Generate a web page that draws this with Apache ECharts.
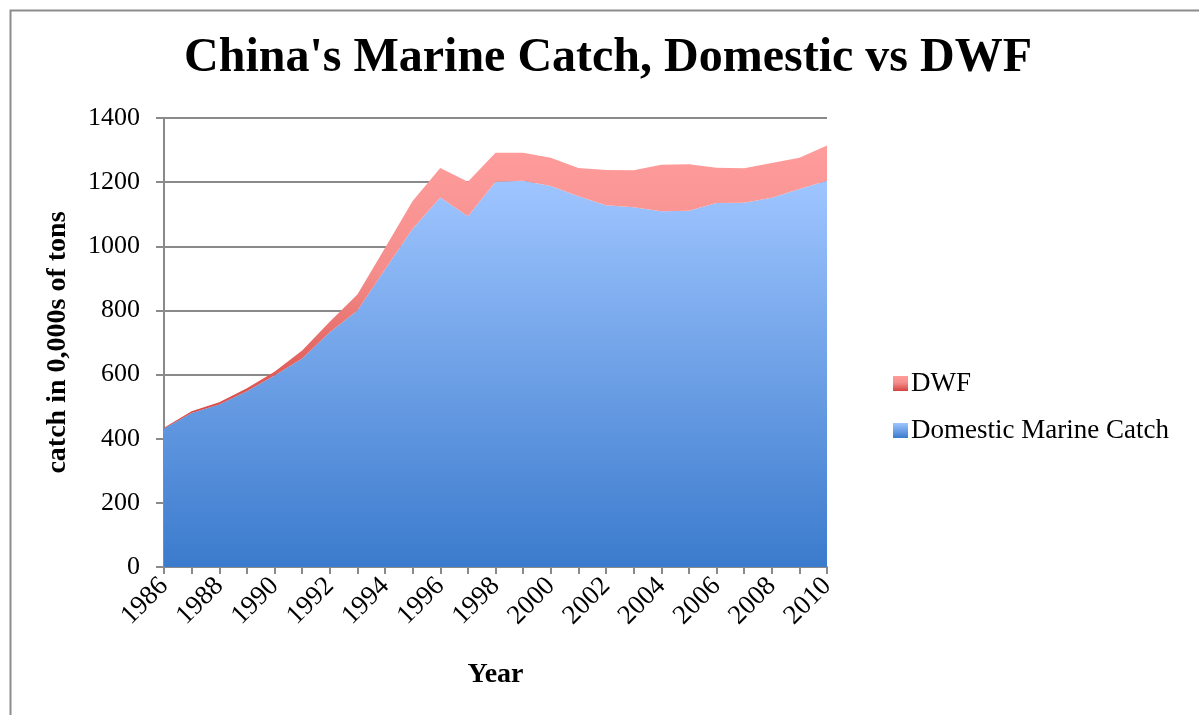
<!DOCTYPE html>
<html>
<head>
<meta charset="utf-8">
<script src="https://cdn.jsdelivr.net/npm/echarts@6/dist/echarts.min.js"></script>
<style>
  html, body { margin: 0; padding: 0; background: #ffffff; }
  #chart { width: 1199px; height: 715px; }
</style>
</head>
<body>
<div id="chart"></div>
<script>
// Years on the category axis
const years = ['1986','1987','1988','1989','1990','1991','1992','1993','1994','1995','1996','1997',
               '1998','1999','2000','2001','2002','2003','2004','2005','2006','2007','2008','2009','2010'];

// Domestic marine catch (0,000s of tons)
const domesticCatch = [432, 480, 507, 548, 597, 650, 732, 800, 928, 1055, 1152, 1094,
                       1201, 1204, 1188, 1156, 1128, 1122, 1109, 1111, 1135, 1136, 1151, 1179, 1204];

// Distant-water fishing catch, stacked on top of the domestic catch
const dwfCatch = [2, 6, 7, 9, 12, 25, 33, 50, 67, 86, 92, 107,
                  91, 88, 88, 88, 110, 115, 145, 145, 110, 107, 109, 97, 110];

const yTicks = { min: 0, max: 1400, interval: 200 };

const serif = '"Liberation Serif", "DejaVu Serif", serif';

const blueFill = new echarts.graphic.LinearGradient(0, 0, 0, 1, [
  { offset: 0, color: '#9fc5ff' },
  { offset: 1, color: '#3b7bcd' }
]);
const redFill = new echarts.graphic.LinearGradient(0, 0, 0, 1, [
  { offset: 0, color: '#ff9d9c' },
  { offset: 0.45, color: '#f48d8b' },
  { offset: 1, color: '#d4433f' }
]);

const chart = echarts.init(document.getElementById('chart'), null, { renderer: 'canvas' });

chart.setOption({
  backgroundColor: '#ffffff',
  animation: false,
  title: {
    text: "China's Marine Catch, Domestic vs DWF",
    left: 603,
    textAlign: 'center',
    top: 30,
    textStyle: { fontFamily: serif, fontWeight: 'bold', fontSize: 48, color: '#000' }
  },
  legend: {
    orient: 'vertical',
    left: 888,
    top: 365,
    itemWidth: 15,
    itemHeight: 15,
    itemGap: 20,
    icon: 'rect',
    data: ['DWF', 'Domestic Marine Catch'],
    textStyle: { fontFamily: serif, fontSize: 27, color: '#000', padding: [0, 0, 0, -2] }
  },
  grid: { left: 164, top: 118, width: 663, height: 449, containLabel: false },
  xAxis: {
    type: 'category',
    data: years,
    boundaryGap: false,
    name: 'Year',
    nameLocation: 'middle',
    nameGap: 94,
    nameTextStyle: { fontFamily: serif, fontWeight: 'bold', fontSize: 28, color: '#000' },
    axisLine: { lineStyle: { color: '#8a8a8a', width: 2 } },
    axisTick: { show: true, interval: 0, length: 7, lineStyle: { color: '#8a8a8a', width: 2 } },
    axisLabel: {
      interval: 1, rotate: 45, margin: 15,
      fontFamily: serif, fontSize: 27, color: '#000'
    },
    splitLine: { show: false }
  },
  yAxis: {
    type: 'value',
    min: yTicks.min,
    max: yTicks.max,
    interval: yTicks.interval,
    name: 'catch in 0,000s of tons',
    nameLocation: 'middle',
    nameGap: 92,
    nameRotate: 90,
    nameTextStyle: { fontFamily: serif, fontWeight: 'bold', fontSize: 28, color: '#000' },
    axisLine: { show: true, lineStyle: { color: '#8a8a8a', width: 2 } },
    axisTick: { show: true, length: 8, lineStyle: { color: '#8a8a8a', width: 2 } },
    axisLabel: {
      fontFamily: serif, fontSize: 26, color: '#000', margin: 24,
      formatter: function (v) { return String(v); }
    },
    splitLine: { show: true, lineStyle: { color: '#8a8a8a', width: 2 } }
  },
  series: [
    {
      name: 'Domestic Marine Catch',
      type: 'line',
      stack: 'catch',
      data: domesticCatch,
      showSymbol: false,
      symbol: 'none',
      lineStyle: { width: 0 },
      itemStyle: { color: blueFill },
      areaStyle: { color: blueFill, opacity: 1 },
      z: 2
    },
    {
      name: 'DWF',
      type: 'line',
      stack: 'catch',
      data: dwfCatch,
      showSymbol: false,
      symbol: 'none',
      lineStyle: { width: 0 },
      itemStyle: { color: redFill },
      areaStyle: { color: redFill, opacity: 1 },
      z: 2
    }
  ],
  graphic: [
    {
      type: 'rect',
      left: 8, top: 8,
      shape: { width: 1200, height: 720 },
      style: { fill: 'none', stroke: '#8c8c8c', lineWidth: 2 },
      silent: true,
      z: -1
    }
  ]
});
</script>
</body>
</html>
